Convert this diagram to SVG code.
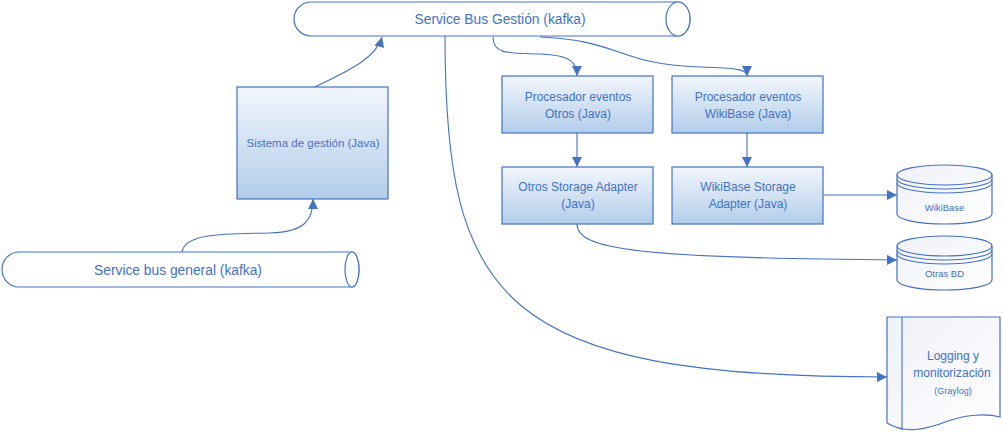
<svg xmlns="http://www.w3.org/2000/svg" width="1003" height="434" viewBox="0 0 1003 434">
<style>
.sh{stroke:#4472c4;stroke-width:1.2}
.bus{fill:#ffffff}
.box{fill:url(#gb)}
.db{fill:url(#gd)}
.t{font-family:"Liberation Sans",Arial,sans-serif;fill:#4472c4;text-anchor:middle}
.c{fill:none;stroke:#4472c4;stroke-width:1.1}
</style>
<defs>
<linearGradient id="gb" x1="0" y1="0" x2="0" y2="1">
<stop offset="0" stop-color="#f2f6fc"/>
<stop offset="1" stop-color="#b2cdea"/>
</linearGradient>
<linearGradient id="gd" x1="0" y1="0" x2="1" y2="1">
<stop offset="0" stop-color="#eef1f8"/>
<stop offset="1" stop-color="#ffffff"/>
</linearGradient>
<marker id="ah" viewBox="0 0 10 10" refX="10" refY="5" markerWidth="10" markerHeight="10" markerUnits="userSpaceOnUse" orient="auto">
<path d="M0,0 L10,5 L0,10 Z" fill="#4472c4"/>
</marker>
</defs>

<g id="connectors">
<path class="c" d="M493,37 C493,55 510,53 540,54 C570,55 577,62 577,76" marker-end="url(#ah)"/>
<path class="c" d="M540,37 C620,40 620,65 700,67 C740,68 747,70 747,76" marker-end="url(#ah)"/>
<path class="c" d="M315,87 C350,70 376,58 382,37" marker-end="url(#ah)"/>
<path class="c" d="M182,252 C185,232 230,234 270,233 C305,232 313,220 313,199" marker-end="url(#ah)"/>
<path class="c" d="M577,133 L577,167" marker-end="url(#ah)"/>
<path class="c" d="M747,133 L747,167" marker-end="url(#ah)"/>
<path class="c" d="M823,195 L897,195" marker-end="url(#ah)"/>
<path class="c" d="M577,224 C577,250 640,258 897,260" marker-end="url(#ah)"/>
<path class="c" d="M445,36 C445,300 500,377 887,377" marker-end="url(#ah)"/>
</g>

<g id="bus-gestion">
<path class="sh bus" d="M311,2 L678,2 A12,17 0 0 1 678,36 L311,36 A17,17 0 0 1 311,2 Z"/>
<ellipse class="sh bus" cx="678" cy="19" rx="12" ry="17"/>
<text class="t" x="500" y="24" font-size="13.8">Service Bus Gestión (kafka)</text>
</g>

<g id="bus-general">
<path class="sh bus" d="M19,252 L352,252 A7,17.5 0 0 1 352,287 L19,287 A17,17.5 0 0 1 19,252 Z"/>
<ellipse class="sh bus" cx="352" cy="269.5" rx="7" ry="17.5"/>
<text class="t" x="178" y="274.5" font-size="13.8">Service bus general (kafka)</text>
</g>

<g id="sistema-gestion">
<rect class="sh box" x="237" y="87" width="151" height="112"/>
<text class="t" x="313" y="147" font-size="11.5">Sistema de gestión (Java)</text>
</g>

<g id="proc-otros">
<rect class="sh box" x="502" y="76" width="151" height="57"/>
<text class="t" x="578" y="101" font-size="12">Procesador eventos</text>
<text class="t" x="578" y="118" font-size="12">Otros (Java)</text>
</g>

<g id="proc-wikibase">
<rect class="sh box" x="672" y="76" width="151" height="57"/>
<text class="t" x="748" y="101" font-size="12">Procesador eventos</text>
<text class="t" x="748" y="118" font-size="12">WikiBase (Java)</text>
</g>

<g id="adapter-otros">
<rect class="sh box" x="502" y="167" width="151" height="57"/>
<text class="t" x="578" y="191" font-size="12">Otros Storage Adapter</text>
<text class="t" x="578" y="208" font-size="12">(Java)</text>
</g>

<g id="adapter-wikibase">
<rect class="sh box" x="672" y="167" width="151" height="57"/>
<text class="t" x="748" y="191" font-size="12">WikiBase Storage</text>
<text class="t" x="748" y="208" font-size="12">Adapter (Java)</text>
</g>

<g id="db-wikibase">
<path class="sh db" d="M897,175 A47.5,10 0 0 1 992,175 L992,214 A47.5,10 0 0 1 897,214 Z"/>
<path class="c" d="M897,175 A47.5,10 0 0 0 992,175"/>
<path class="c" d="M897,179 A47.5,10 0 0 0 992,179"/>
<path class="c" d="M897,183 A47.5,10 0 0 0 992,183"/>
<text class="t" x="944.5" y="211" font-size="9.5">WikiBase</text>
</g>

<g id="db-otras">
<path class="sh db" d="M897,246 A47.5,10 0 0 1 992,246 L992,280 A47.5,10 0 0 1 897,280 Z"/>
<path class="c" d="M897,246 A47.5,10 0 0 0 992,246"/>
<path class="c" d="M897,250 A47.5,10 0 0 0 992,250"/>
<path class="c" d="M897,254 A47.5,10 0 0 0 992,254"/>
<text class="t" x="944.5" y="277" font-size="9.5">Otras BD</text>
</g>

<g id="logging">
<path class="sh db" d="M887,317 L1000,317 L1000,417 C985,413 965,415 948,421 C925,430 905,434 887,423 Z"/>
<path class="c" d="M902,317 L902,430"/>
<text class="t" x="953" y="360" font-size="12">Logging y</text>
<text class="t" x="952" y="377" font-size="12">monitorización</text>
<text class="t" x="953" y="394" font-size="9">(Graylog)</text>
</g>
</svg>
